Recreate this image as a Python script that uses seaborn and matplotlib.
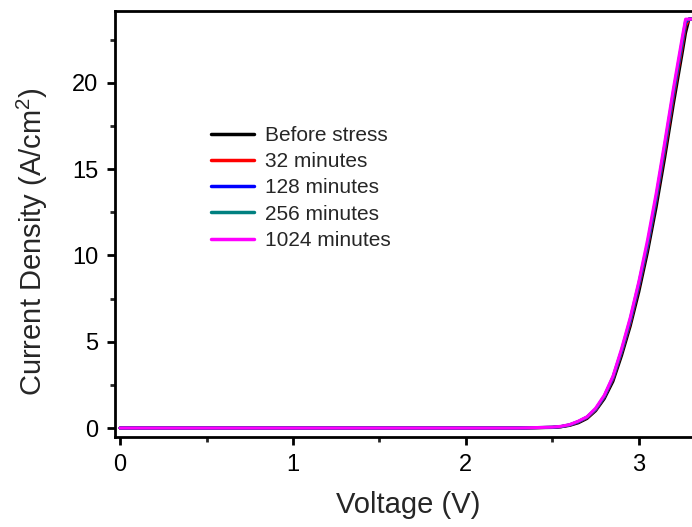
import numpy as np
import pandas as pd
import matplotlib
matplotlib.use("Agg")
import matplotlib.pyplot as plt
from matplotlib.ticker import MultipleLocator
import seaborn as sns

# ------------------------------
# Data
# ------------------------------
voltage = [0.0, 0.5, 1.0, 1.5, 2.0, 2.3, 2.5, 2.55, 2.6, 2.65, 2.7, 2.75, 2.8,
           2.85, 2.9, 2.95, 3.0, 3.05, 3.1, 3.15, 3.2, 3.25, 3.27, 3.29, 3.4]

j_before = [0.0, 0.0, 0.0, 0.0, 0.0, 0.0, 0.03, 0.07, 0.15, 0.3, 0.55, 1.0, 1.7,
            2.7, 4.2, 5.9, 7.9, 10.2, 12.8, 15.7, 18.8, 21.7, 22.9, 23.7, 23.7]
j_32 = [0.0, 0.0, 0.0, 0.0, 0.0, 0.0, 0.04, 0.08, 0.17, 0.35, 0.6, 1.05, 1.8,
        2.85, 4.4, 6.1, 8.2, 10.5, 13.2, 16.1, 19.2, 22.1, 23.3, 23.7, 23.7]
j_128 = [0.0, 0.0, 0.0, 0.0, 0.0, 0.0, 0.04, 0.08, 0.18, 0.36, 0.62, 1.08, 1.82,
         2.9, 4.45, 6.2, 8.3, 10.6, 13.3, 16.3, 19.4, 22.3, 23.5, 23.7, 23.7]
j_256 = [0.0, 0.0, 0.0, 0.0, 0.0, 0.0, 0.05, 0.09, 0.19, 0.38, 0.64, 1.1, 1.85,
         2.95, 4.5, 6.3, 8.4, 10.7, 13.4, 16.4, 19.5, 22.4, 23.6, 23.7, 23.7]
j_1024 = [0.0, 0.0, 0.0, 0.0, 0.0, 0.0, 0.05, 0.1, 0.2, 0.4, 0.65, 1.15, 1.9,
          3.0, 4.6, 6.4, 8.5, 10.9, 13.6, 16.6, 19.7, 22.6, 23.7, 23.7, 23.7]

labels = ["Before stress", "32 minutes", "128 minutes", "256 minutes", "1024 minutes"]
colors = ["#000000", "#FF0000", "#0000FF", "#008080", "#FF00FF"]

# ------------------------------
# Long-form table for seaborn
# ------------------------------
frames = []
for lab, j in zip(labels, [j_before, j_32, j_128, j_256, j_1024]):
    frames.append(pd.DataFrame({"V": voltage, "J": j, "series": lab}))
df = pd.concat(frames, ignore_index=True)

sns.set_style("ticks")
plt.rcParams["font.family"] = ["Liberation Sans", "DejaVu Sans"]
plt.rcParams["mathtext.fontset"] = "custom"
plt.rcParams["mathtext.rm"] = "Liberation Sans"
plt.rcParams["mathtext.it"] = "Liberation Sans:italic"

fig = plt.figure(figsize=(6.92, 5.27), dpi=100)
ax = fig.add_axes([0.1662, 0.1708, 0.857, 0.8083])

sns.lineplot(data=df, x="V", y="J", hue="series", hue_order=labels,
             palette=colors, sort=False, linewidth=2.2, ax=ax)

ax.set_xlim(-0.029, 3.4)
ax.set_ylim(-0.52, 24.17)
ax.xaxis.set_major_locator(MultipleLocator(1))
ax.xaxis.set_minor_locator(MultipleLocator(0.5))
ax.yaxis.set_major_locator(MultipleLocator(5))
ax.yaxis.set_minor_locator(MultipleLocator(2.5))

for side in ["left", "bottom", "top", "right"]:
    ax.spines[side].set_linewidth(2.0)
    ax.spines[side].set_color("black")
ax.tick_params(which="major", direction="out", length=6, width=2,
               labelsize=17, colors="black", pad=6)
ax.tick_params(which="minor", direction="out", length=3.5, width=2)
ax.tick_params(top=False, right=False, which="both")

ax.set_xlabel("Voltage (V)", fontsize=21)
ax.set_ylabel("Current Density (A/cm$^2$)", fontsize=21)
ax.xaxis.set_label_coords(0.494, -0.127)
ax.yaxis.set_label_coords(-0.11, 0.458)

leg = ax.legend(loc="upper left", bbox_to_anchor=(0.147, 0.75), frameon=False,
                fontsize=15, handlelength=2.1, handletextpad=0.5,
                labelspacing=0.35, borderaxespad=0)
for line in leg.get_lines():
    line.set_linewidth(2.5)

plt.savefig("out.png", dpi=100)
plt.close()
